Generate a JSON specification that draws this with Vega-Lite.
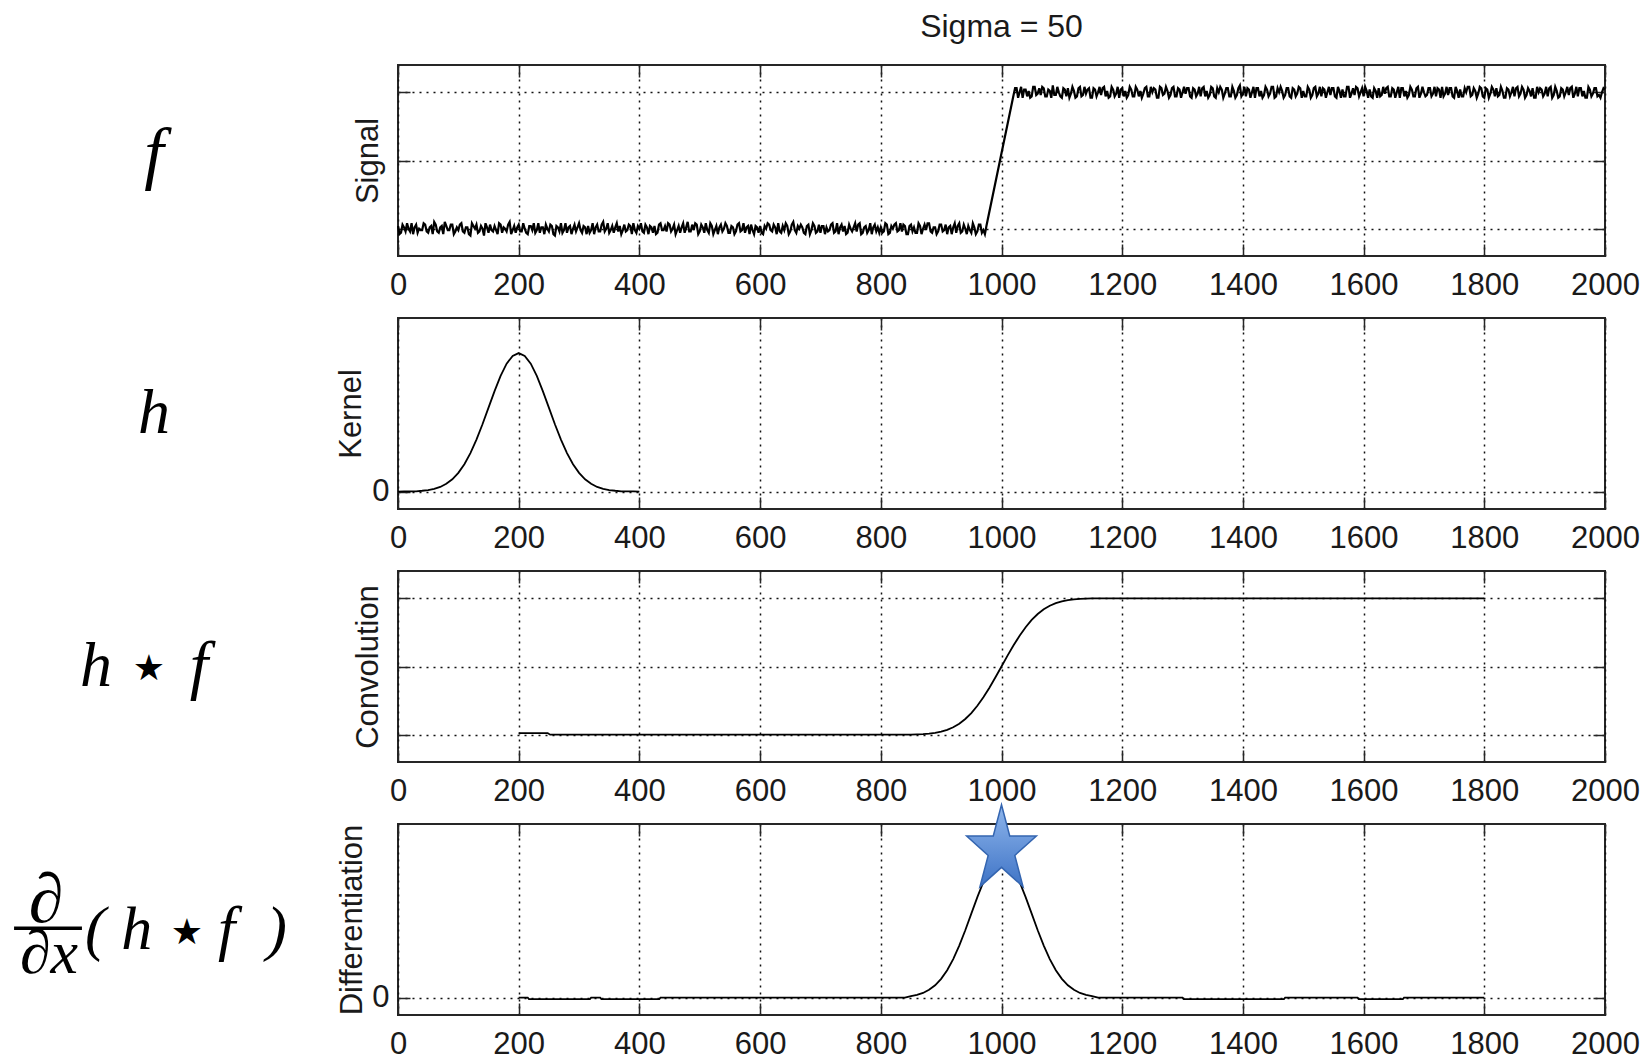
{
  "$schema": "https://vega.github.io/schema/vega-lite/v6.json",
  "padding": {"left": 0, "top": 10, "right": 0, "bottom": 0},
  "background": "white",
  "datasets": {
    "signal": [
{"x":0,"y":0.02},{"x":5,"y":-0.03},{"x":10,"y":0.01},{"x":15,"y":0.04},{"x":20,"y":-0.02},{"x":25,"y":-0.04},{"x":30,"y":0.03},{"x":35,"y":0},{"x":40,"y":-0.01},{"x":45,"y":0.03},{"x":50,"y":-0.03},{"x":55,"y":0.02},{"x":60,"y":0.05},{"x":65,"y":-0.02},{"x":70,"y":0.01},{"x":75,"y":-0.04},{"x":80,"y":0.02},{"x":85,"y":-0.01},{"x":90,"y":0.03},{"x":95,"y":-0.02},
{"x":100,"y":-0.01},{"x":105,"y":0.04},{"x":110,"y":-0.03},{"x":115,"y":0.01},{"x":120,"y":-0.05},{"x":125,"y":0.02},{"x":130,"y":0.03},{"x":135,"y":-0.02},{"x":140,"y":0},{"x":145,"y":0.04},{"x":150,"y":-0.03},{"x":155,"y":-0.01},{"x":160,"y":0.02},{"x":165,"y":-0.04},{"x":170,"y":0.03},{"x":175,"y":0.01},{"x":180,"y":-0.02},{"x":185,"y":0.05},{"x":190,"y":-0.01},{"x":195,"y":-0.03},
{"x":200,"y":0.03},{"x":205,"y":-0.02},{"x":210,"y":0},{"x":215,"y":-0.04},{"x":220,"y":0.02},{"x":225,"y":0.04},{"x":230,"y":-0.01},{"x":235,"y":-0.03},{"x":240,"y":0.01},{"x":245,"y":0.03},{"x":250,"y":-0.02},{"x":255,"y":0.02},{"x":260,"y":-0.05},{"x":265,"y":0.01},{"x":270,"y":0.04},{"x":275,"y":-0.01},{"x":280,"y":-0.03},{"x":285,"y":0.02},{"x":290,"y":0},{"x":295,"y":-0.02},
{"x":300,"y":0.04},{"x":305,"y":-0.03},{"x":310,"y":0.01},{"x":315,"y":0.02},{"x":320,"y":-0.01},{"x":325,"y":-0.04},{"x":330,"y":0.03},{"x":335,"y":-0.02},{"x":340,"y":0.05},{"x":345,"y":0},{"x":350,"y":-0.03},{"x":355,"y":0.02},{"x":360,"y":0.01},{"x":365,"y":-0.02},{"x":370,"y":-0.04},{"x":375,"y":0.03},{"x":380,"y":-0.01},{"x":385,"y":0.02},{"x":390,"y":0.04},{"x":395,"y":-0.03},
{"x":400,"y":0},{"x":405,"y":-0.02},{"x":410,"y":0.03},{"x":415,"y":-0.04},{"x":420,"y":0.01},{"x":425,"y":0.02},{"x":430,"y":-0.03},{"x":435,"y":0.04},{"x":440,"y":-0.01},{"x":445,"y":-0.02},{"x":450,"y":0.03},{"x":455,"y":0},{"x":460,"y":-0.04},{"x":465,"y":0.02},{"x":470,"y":0.01},{"x":475,"y":-0.03},{"x":480,"y":0.05},{"x":485,"y":-0.02},{"x":490,"y":-0.01},{"x":495,"y":0.03},
{"x":500,"y":-0.02},{"x":505,"y":0.01},{"x":510,"y":0.04},{"x":515,"y":-0.03},{"x":520,"y":0.02},{"x":525,"y":-0.01},{"x":530,"y":-0.04},{"x":535,"y":0.03},{"x":540,"y":0},{"x":545,"y":0.02},{"x":550,"y":-0.03},{"x":555,"y":0.01},{"x":560,"y":-0.02},{"x":565,"y":0.04},{"x":570,"y":-0.01},{"x":575,"y":-0.03},{"x":580,"y":0.02},{"x":585,"y":0.03},{"x":590,"y":-0.04},{"x":595,"y":0.01},
{"x":600,"y":0.02},{"x":605,"y":-0.04},{"x":610,"y":0},{"x":615,"y":0.03},{"x":620,"y":-0.02},{"x":625,"y":0.01},{"x":630,"y":0.04},{"x":635,"y":-0.03},{"x":640,"y":-0.01},{"x":645,"y":0.02},{"x":650,"y":-0.02},{"x":655,"y":0.05},{"x":660,"y":-0.03},{"x":665,"y":0},{"x":670,"y":0.01},{"x":675,"y":-0.04},{"x":680,"y":0.03},{"x":685,"y":-0.01},{"x":690,"y":0.02},{"x":695,"y":-0.02},
{"x":700,"y":-0.03},{"x":705,"y":0.02},{"x":710,"y":0.01},{"x":715,"y":-0.01},{"x":720,"y":0.04},{"x":725,"y":-0.02},{"x":730,"y":-0.04},{"x":735,"y":0.03},{"x":740,"y":0.02},{"x":745,"y":-0.03},{"x":750,"y":0},{"x":755,"y":0.01},{"x":760,"y":-0.02},{"x":765,"y":0.04},{"x":770,"y":-0.03},{"x":775,"y":0.02},{"x":780,"y":-0.01},{"x":785,"y":-0.04},{"x":790,"y":0.03},{"x":795,"y":0.01},
{"x":800,"y":0.01},{"x":805,"y":-0.02},{"x":810,"y":0.03},{"x":815,"y":-0.03},{"x":820,"y":0},{"x":825,"y":0.04},{"x":830,"y":-0.01},{"x":835,"y":-0.02},{"x":840,"y":0.02},{"x":845,"y":-0.04},{"x":850,"y":0.03},{"x":855,"y":0.01},{"x":860,"y":-0.03},{"x":865,"y":0.02},{"x":870,"y":0},{"x":875,"y":-0.01},{"x":880,"y":0.04},{"x":885,"y":-0.03},{"x":890,"y":0.01},{"x":895,"y":-0.02},
{"x":900,"y":0.03},{"x":905,"y":-0.01},{"x":910,"y":-0.04},{"x":915,"y":0.02},{"x":920,"y":0.01},{"x":925,"y":-0.03},{"x":930,"y":0.04},{"x":935,"y":-0.02},{"x":940,"y":0},{"x":945,"y":0.02},{"x":950,"y":-0.03},{"x":955,"y":0.01},{"x":960,"y":-0.02},{"x":965,"y":0.03},{"x":970,"y":-0.01},{"x":975,"y":0.02},
{"x":2.5,"y":-0.04},{"x":7.5,"y":0.03},{"x":12.5,"y":-0.02},{"x":17.5,"y":0},{"x":22.5,"y":0.04},{"x":27.5,"y":0.01},{"x":32.5,"y":-0.03},{"x":37.5,"y":-0.01},{"x":42.5,"y":0.04},{"x":47.5,"y":-0.02},{"x":52.5,"y":0.01},{"x":57.5,"y":-0.04},{"x":62.5,"y":0.03},{"x":67.5,"y":-0.03},{"x":72.5,"y":0.02},{"x":77.5,"y":0.05},{"x":82.5,"y":-0.01},{"x":87.5,"y":0.03},{"x":92.5,"y":-0.04},{"x":97.5,"y":0.01},
{"x":102.5,"y":0.03},{"x":107.5,"y":-0.02},{"x":112.5,"y":0.01},{"x":117.5,"y":-0.04},{"x":122.5,"y":0.04},{"x":127.5,"y":0},{"x":132.5,"y":-0.03},{"x":137.5,"y":0.02},{"x":142.5,"y":-0.05},{"x":147.5,"y":0.01},{"x":152.5,"y":0.03},{"x":157.5,"y":-0.02},{"x":162.5,"y":-0.01},{"x":167.5,"y":0.04},{"x":172.5,"y":-0.03},{"x":177.5,"y":0},{"x":182.5,"y":0.03},{"x":187.5,"y":-0.04},{"x":192.5,"y":0.02},{"x":197.5,"y":0.01},
{"x":202.5,"y":-0.02},{"x":207.5,"y":0.04},{"x":212.5,"y":-0.03},{"x":217.5,"y":0.02},{"x":222.5,"y":-0.01},{"x":227.5,"y":-0.03},{"x":232.5,"y":0.04},{"x":237.5,"y":0.01},{"x":242.5,"y":-0.04},{"x":247.5,"y":0},{"x":252.5,"y":0.03},{"x":257.5,"y":-0.04},{"x":262.5,"y":0.02},{"x":267.5,"y":-0.02},{"x":272.5,"y":-0.03},{"x":277.5,"y":0.04},{"x":282.5,"y":0.01},{"x":287.5,"y":-0.04},{"x":292.5,"y":0.03},{"x":297.5,"y":0.01},
{"x":302.5,"y":-0.01},{"x":307.5,"y":0.02},{"x":312.5,"y":-0.04},{"x":317.5,"y":-0.03},{"x":322.5,"y":0.04},{"x":327.5,"y":0.01},{"x":332.5,"y":-0.02},{"x":337.5,"y":0.03},{"x":342.5,"y":-0.02},{"x":347.5,"y":0.04},{"x":352.5,"y":-0.01},{"x":357.5,"y":-0.03},{"x":362.5,"y":0.04},{"x":367.5,"y":0.02},{"x":372.5,"y":-0.01},{"x":377.5,"y":-0.02},{"x":382.5,"y":0.03},{"x":387.5,"y":-0.04},{"x":392.5,"y":-0.01},{"x":397.5,"y":0.02},
{"x":402.5,"y":0.04},{"x":407.5,"y":-0.03},{"x":412.5,"y":0.01},{"x":417.5,"y":0.02},{"x":422.5,"y":-0.03},{"x":427.5,"y":-0.04},{"x":432.5,"y":0.03},{"x":437.5,"y":-0.01},{"x":442.5,"y":0.02},{"x":447.5,"y":0.04},{"x":452.5,"y":-0.02},{"x":457.5,"y":0.03},{"x":462.5,"y":-0.01},{"x":467.5,"y":-0.03},{"x":472.5,"y":0.04},{"x":477.5,"y":0.01},{"x":482.5,"y":-0.02},{"x":487.5,"y":0.03},{"x":492.5,"y":0.04},{"x":497.5,"y":-0.04},
{"x":502.5,"y":0.03},{"x":507.5,"y":-0.03},{"x":512.5,"y":-0.01},{"x":517.5,"y":0.04},{"x":522.5,"y":-0.04},{"x":527.5,"y":0.02},{"x":532.5,"y":0.01},{"x":537.5,"y":-0.02},{"x":542.5,"y":0.04},{"x":547.5,"y":-0.03},{"x":552.5,"y":0.02},{"x":557.5,"y":-0.04},{"x":562.5,"y":0.03},{"x":567.5,"y":-0.02},{"x":572.5,"y":0.04},{"x":577.5,"y":0.01},{"x":582.5,"y":-0.04},{"x":587.5,"y":-0.01},{"x":592.5,"y":0.02},{"x":597.5,"y":-0.03},
{"x":602.5,"y":-0.03},{"x":607.5,"y":0.02},{"x":612.5,"y":0.04},{"x":617.5,"y":-0.01},{"x":622.5,"y":0.03},{"x":627.5,"y":-0.04},{"x":632.5,"y":-0.02},{"x":637.5,"y":0.02},{"x":642.5,"y":0.04},{"x":647.5,"y":-0.04},{"x":652.5,"y":0.03},{"x":657.5,"y":-0.01},{"x":662.5,"y":0.02},{"x":667.5,"y":0.03},{"x":672.5,"y":-0.03},{"x":677.5,"y":0.02},{"x":682.5,"y":-0.04},{"x":687.5,"y":0.04},{"x":692.5,"y":-0.03},{"x":697.5,"y":0.03},
{"x":702.5,"y":0.02},{"x":707.5,"y":-0.04},{"x":712.5,"y":-0.02},{"x":717.5,"y":0.03},{"x":722.5,"y":-0.03},{"x":727.5,"y":0.04},{"x":732.5,"y":0.01},{"x":737.5,"y":-0.02},{"x":742.5,"y":-0.04},{"x":747.5,"y":0.03},{"x":752.5,"y":-0.02},{"x":757.5,"y":0.04},{"x":762.5,"y":0.03},{"x":767.5,"y":-0.04},{"x":772.5,"y":0.01},{"x":777.5,"y":-0.03},{"x":782.5,"y":0.04},{"x":787.5,"y":0.01},{"x":792.5,"y":-0.02},{"x":797.5,"y":-0.03},
{"x":802.5,"y":-0.03},{"x":807.5,"y":0.04},{"x":812.5,"y":-0.04},{"x":817.5,"y":0.02},{"x":822.5,"y":0.03},{"x":827.5,"y":-0.02},{"x":832.5,"y":0.04},{"x":837.5,"y":0.03},{"x":842.5,"y":-0.04},{"x":847.5,"y":0.02},{"x":852.5,"y":-0.02},{"x":857.5,"y":-0.03},{"x":862.5,"y":0.04},{"x":867.5,"y":-0.04},{"x":872.5,"y":0.03},{"x":877.5,"y":0.04},{"x":882.5,"y":-0.02},{"x":887.5,"y":0.01},{"x":892.5,"y":-0.04},{"x":897.5,"y":0.03},
{"x":902.5,"y":-0.02},{"x":907.5,"y":0.03},{"x":912.5,"y":0.01},{"x":917.5,"y":-0.04},{"x":922.5,"y":0.04},{"x":927.5,"y":0.02},{"x":932.5,"y":-0.03},{"x":937.5,"y":0.03},{"x":942.5,"y":-0.04},{"x":947.5,"y":-0.01},{"x":952.5,"y":0.04},{"x":957.5,"y":-0.04},{"x":962.5,"y":0.03},{"x":967.5,"y":-0.03},{"x":972.5,"y":-0.04},
{"x":1020,"y":0.98},{"x":1025,"y":1.03},{"x":1030,"y":1},{"x":1035,"y":0.96},{"x":1040,"y":1.02},{"x":1045,"y":1.01},{"x":1050,"y":0.97},{"x":1055,"y":1.04},{"x":1060,"y":0.99},{"x":1065,"y":0.98},{"x":1070,"y":1.03},{"x":1075,"y":0.97},{"x":1080,"y":1.01},{"x":1085,"y":1.05},{"x":1090,"y":0.98},{"x":1095,"y":1},{"x":1100,"y":0.96},{"x":1105,"y":1.02},{"x":1110,"y":1.03},{"x":1115,"y":0.99},
{"x":1120,"y":1.01},{"x":1125,"y":0.97},{"x":1130,"y":1.04},{"x":1135,"y":0.98},{"x":1140,"y":0.99},{"x":1145,"y":1.03},{"x":1150,"y":0.96},{"x":1155,"y":1.02},{"x":1160,"y":1},{"x":1165,"y":0.98},{"x":1170,"y":1.04},{"x":1175,"y":1.01},{"x":1180,"y":0.97},{"x":1185,"y":1.02},{"x":1190,"y":0.99},{"x":1195,"y":0.96},{"x":1200,"y":1.03},{"x":1205,"y":1.01},{"x":1210,"y":0.98},{"x":1215,"y":1.02},
{"x":1220,"y":0.97},{"x":1225,"y":1.02},{"x":1230,"y":1.01},{"x":1235,"y":0.99},{"x":1240,"y":1.04},{"x":1245,"y":0.97},{"x":1250,"y":1},{"x":1255,"y":1.02},{"x":1260,"y":0.96},{"x":1265,"y":1.03},{"x":1270,"y":0.99},{"x":1275,"y":1.01},{"x":1280,"y":0.98},{"x":1285,"y":1.04},{"x":1290,"y":0.97},{"x":1295,"y":1.02},{"x":1300,"y":1},{"x":1305,"y":0.99},{"x":1310,"y":1.03},{"x":1315,"y":0.96},
{"x":1320,"y":1.02},{"x":1325,"y":0.99},{"x":1330,"y":0.97},{"x":1335,"y":1.04},{"x":1340,"y":1.01},{"x":1345,"y":0.98},{"x":1350,"y":1.03},{"x":1355,"y":0.96},{"x":1360,"y":1},{"x":1365,"y":1.02},{"x":1370,"y":0.99},{"x":1375,"y":1.03},{"x":1380,"y":0.97},{"x":1385,"y":1.01},{"x":1390,"y":0.98},{"x":1395,"y":1.05},{"x":1400,"y":0.99},{"x":1405,"y":0.97},{"x":1410,"y":1.02},{"x":1415,"y":1},
{"x":1420,"y":0.96},{"x":1425,"y":1.03},{"x":1430,"y":1.01},{"x":1435,"y":0.98},{"x":1440,"y":1.02},{"x":1445,"y":0.99},{"x":1450,"y":1.04},{"x":1455,"y":0.97},{"x":1460,"y":1},{"x":1465,"y":1.01},{"x":1470,"y":0.98},{"x":1475,"y":1.03},{"x":1480,"y":0.96},{"x":1485,"y":1.02},{"x":1490,"y":0.99},{"x":1495,"y":1.03},{"x":1500,"y":1.01},{"x":1505,"y":0.97},{"x":1510,"y":1.02},{"x":1515,"y":0.98},
{"x":1520,"y":1.04},{"x":1525,"y":0.99},{"x":1530,"y":0.97},{"x":1535,"y":1.02},{"x":1540,"y":1},{"x":1545,"y":0.98},{"x":1550,"y":1.03},{"x":1555,"y":0.96},{"x":1560,"y":1.01},{"x":1565,"y":1.02},{"x":1570,"y":0.97},{"x":1575,"y":1.04},{"x":1580,"y":0.99},{"x":1585,"y":0.98},{"x":1590,"y":1.03},{"x":1595,"y":1},{"x":1600,"y":0.97},{"x":1605,"y":1.01},{"x":1610,"y":1.02},{"x":1615,"y":0.96},
{"x":1620,"y":1.01},{"x":1625,"y":1.03},{"x":1630,"y":0.98},{"x":1635,"y":0.99},{"x":1640,"y":1.04},{"x":1645,"y":0.97},{"x":1650,"y":1.02},{"x":1655,"y":1},{"x":1660,"y":0.96},{"x":1665,"y":1.03},{"x":1670,"y":1.01},{"x":1675,"y":0.98},{"x":1680,"y":1.02},{"x":1685,"y":0.97},{"x":1690,"y":1.04},{"x":1695,"y":0.99},{"x":1700,"y":1},{"x":1705,"y":0.98},{"x":1710,"y":1.03},{"x":1715,"y":0.99},
{"x":1720,"y":0.97},{"x":1725,"y":1.02},{"x":1730,"y":1.04},{"x":1735,"y":0.99},{"x":1740,"y":0.98},{"x":1745,"y":1.03},{"x":1750,"y":0.96},{"x":1755,"y":1.01},{"x":1760,"y":1.02},{"x":1765,"y":0.97},{"x":1770,"y":1},{"x":1775,"y":1.04},{"x":1780,"y":0.98},{"x":1785,"y":1.01},{"x":1790,"y":0.99},{"x":1795,"y":1.03},{"x":1800,"y":0.96},{"x":1805,"y":1.02},{"x":1810,"y":0.99},{"x":1815,"y":1.02},
{"x":1820,"y":1.03},{"x":1825,"y":0.98},{"x":1830,"y":1.01},{"x":1835,"y":0.96},{"x":1840,"y":1.02},{"x":1845,"y":1},{"x":1850,"y":0.97},{"x":1855,"y":1.04},{"x":1860,"y":0.99},{"x":1865,"y":1.02},{"x":1870,"y":0.98},{"x":1875,"y":1.01},{"x":1880,"y":1.03},{"x":1885,"y":0.96},{"x":1890,"y":1},{"x":1895,"y":1.02},{"x":1900,"y":0.99},{"x":1905,"y":0.97},{"x":1910,"y":1.04},{"x":1915,"y":0.98},
{"x":1920,"y":1.01},{"x":1925,"y":0.97},{"x":1930,"y":1.02},{"x":1935,"y":1},{"x":1940,"y":0.98},{"x":1945,"y":1.04},{"x":1950,"y":0.99},{"x":1955,"y":0.97},{"x":1960,"y":1.03},{"x":1965,"y":1.01},{"x":1970,"y":0.96},{"x":1975,"y":1.02},{"x":1980,"y":0.99},{"x":1985,"y":1.03},{"x":1990,"y":0.98},{"x":1995,"y":1},{"x":2000,"y":1.02},
{"x":1022.5,"y":1.03},{"x":1027.5,"y":0.96},{"x":1032.5,"y":1.04},{"x":1037.5,"y":1.02},{"x":1042.5,"y":0.97},{"x":1047.5,"y":0.96},{"x":1052.5,"y":1.04},{"x":1057.5,"y":0.98},{"x":1062.5,"y":1.03},{"x":1067.5,"y":1.04},{"x":1072.5,"y":0.97},{"x":1077.5,"y":1.02},{"x":1082.5,"y":0.96},{"x":1087.5,"y":0.98},{"x":1092.5,"y":1.04},{"x":1097.5,"y":0.97},{"x":1102.5,"y":1.03},{"x":1107.5,"y":0.97},{"x":1112.5,"y":0.96},{"x":1117.5,"y":1.04},
{"x":1122.5,"y":0.96},{"x":1127.5,"y":1.03},{"x":1132.5,"y":0.97},{"x":1137.5,"y":1.04},{"x":1142.5,"y":1.02},{"x":1147.5,"y":0.96},{"x":1152.5,"y":1.03},{"x":1157.5,"y":0.97},{"x":1162.5,"y":1.04},{"x":1167.5,"y":1.03},{"x":1172.5,"y":0.97},{"x":1177.5,"y":0.96},{"x":1182.5,"y":1.04},{"x":1187.5,"y":0.97},{"x":1192.5,"y":1.04},{"x":1197.5,"y":1.02},{"x":1202.5,"y":0.97},{"x":1207.5,"y":0.96},{"x":1212.5,"y":1.04},{"x":1217.5,"y":0.97},
{"x":1222.5,"y":1.04},{"x":1227.5,"y":0.97},{"x":1232.5,"y":0.96},{"x":1237.5,"y":1.03},{"x":1242.5,"y":0.97},{"x":1247.5,"y":1.04},{"x":1252.5,"y":1.03},{"x":1257.5,"y":0.96},{"x":1262.5,"y":1.04},{"x":1267.5,"y":0.98},{"x":1272.5,"y":1.04},{"x":1277.5,"y":0.96},{"x":1282.5,"y":1.03},{"x":1287.5,"y":0.97},{"x":1292.5,"y":1.03},{"x":1297.5,"y":0.96},{"x":1302.5,"y":1.04},{"x":1307.5,"y":1.03},{"x":1312.5,"y":0.97},{"x":1317.5,"y":1.03},
{"x":1322.5,"y":0.97},{"x":1327.5,"y":1.04},{"x":1332.5,"y":1.03},{"x":1337.5,"y":0.97},{"x":1342.5,"y":0.96},{"x":1347.5,"y":1.04},{"x":1352.5,"y":0.97},{"x":1357.5,"y":1.03},{"x":1362.5,"y":1.04},{"x":1367.5,"y":0.96},{"x":1372.5,"y":1.03},{"x":1377.5,"y":0.97},{"x":1382.5,"y":1.04},{"x":1387.5,"y":0.96},{"x":1392.5,"y":1.03},{"x":1397.5,"y":0.97},{"x":1402.5,"y":1.04},{"x":1407.5,"y":1.03},{"x":1412.5,"y":0.96},{"x":1417.5,"y":1.04},
{"x":1422.5,"y":1.03},{"x":1427.5,"y":0.97},{"x":1432.5,"y":0.96},{"x":1437.5,"y":1.04},{"x":1442.5,"y":0.97},{"x":1447.5,"y":1.04},{"x":1452.5,"y":0.96},{"x":1457.5,"y":1.03},{"x":1462.5,"y":1.04},{"x":1467.5,"y":0.96},{"x":1472.5,"y":1.03},{"x":1477.5,"y":0.97},{"x":1482.5,"y":1.03},{"x":1487.5,"y":0.97},{"x":1492.5,"y":1.04},{"x":1497.5,"y":0.96},{"x":1502.5,"y":0.97},{"x":1507.5,"y":1.04},{"x":1512.5,"y":0.96},{"x":1517.5,"y":1.03},
{"x":1522.5,"y":0.97},{"x":1527.5,"y":1.04},{"x":1532.5,"y":1.03},{"x":1537.5,"y":0.96},{"x":1542.5,"y":1.04},{"x":1547.5,"y":1.03},{"x":1552.5,"y":0.97},{"x":1557.5,"y":1.04},{"x":1562.5,"y":0.96},{"x":1567.5,"y":0.97},{"x":1572.5,"y":1.04},{"x":1577.5,"y":0.96},{"x":1582.5,"y":1.03},{"x":1587.5,"y":1.04},{"x":1592.5,"y":0.97},{"x":1597.5,"y":1.03},{"x":1602.5,"y":1.04},{"x":1607.5,"y":0.96},{"x":1612.5,"y":0.97},{"x":1617.5,"y":1.03},
{"x":1622.5,"y":0.96},{"x":1627.5,"y":0.97},{"x":1632.5,"y":1.04},{"x":1637.5,"y":1.03},{"x":1642.5,"y":0.97},{"x":1647.5,"y":1.03},{"x":1652.5,"y":0.96},{"x":1657.5,"y":1.04},{"x":1662.5,"y":1.03},{"x":1667.5,"y":0.97},{"x":1672.5,"y":0.96},{"x":1677.5,"y":1.04},{"x":1682.5,"y":0.97},{"x":1687.5,"y":1.03},{"x":1692.5,"y":0.96},{"x":1697.5,"y":1.04},{"x":1702.5,"y":0.97},{"x":1707.5,"y":1.03},{"x":1712.5,"y":0.97},{"x":1717.5,"y":1.04},
{"x":1722.5,"y":1.03},{"x":1727.5,"y":0.96},{"x":1732.5,"y":0.97},{"x":1737.5,"y":1.04},{"x":1742.5,"y":1.03},{"x":1747.5,"y":0.97},{"x":1752.5,"y":1.04},{"x":1757.5,"y":0.96},{"x":1762.5,"y":0.97},{"x":1767.5,"y":1.03},{"x":1772.5,"y":1.04},{"x":1777.5,"y":0.97},{"x":1782.5,"y":1.03},{"x":1787.5,"y":0.96},{"x":1792.5,"y":1.04},{"x":1797.5,"y":0.97},{"x":1802.5,"y":1.03},{"x":1807.5,"y":0.96},{"x":1812.5,"y":1.04},{"x":1817.5,"y":0.97},
{"x":1822.5,"y":0.97},{"x":1827.5,"y":1.04},{"x":1832.5,"y":0.96},{"x":1837.5,"y":1.03},{"x":1842.5,"y":0.97},{"x":1847.5,"y":1.04},{"x":1852.5,"y":1.03},{"x":1857.5,"y":0.97},{"x":1862.5,"y":1.04},{"x":1867.5,"y":0.96},{"x":1872.5,"y":1.03},{"x":1877.5,"y":0.97},{"x":1882.5,"y":0.96},{"x":1887.5,"y":1.04},{"x":1892.5,"y":1.03},{"x":1897.5,"y":0.97},{"x":1902.5,"y":1.04},{"x":1907.5,"y":1.03},{"x":1912.5,"y":0.96},{"x":1917.5,"y":1.04},
{"x":1922.5,"y":0.96},{"x":1927.5,"y":1.03},{"x":1932.5,"y":0.97},{"x":1937.5,"y":1.04},{"x":1942.5,"y":1.03},{"x":1947.5,"y":0.96},{"x":1952.5,"y":1.04},{"x":1957.5,"y":1.03},{"x":1962.5,"y":0.97},{"x":1967.5,"y":0.96},{"x":1972.5,"y":1.04},{"x":1977.5,"y":0.97},{"x":1982.5,"y":1.03},{"x":1987.5,"y":0.97},{"x":1992.5,"y":0.96},{"x":1997.5,"y":1.03}
    ],
    "kernel": [
{"x":0,"y":0},{"x":10,"y":0.00001},{"x":20,"y":0.00001},{"x":30,"y":0.00002},{"x":40,"y":0.00005},{"x":50,"y":0.00009},{"x":60,"y":0.00016},{"x":70,"y":0.00027},{"x":80,"y":0.00045},{"x":90,"y":0.00071},{"x":100,"y":0.00108},{"x":110,"y":0.00158},{"x":120,"y":0.00222},{"x":130,"y":0.003},{"x":140,"y":0.00388},{"x":150,"y":0.00484},{"x":160,"y":0.00579},{"x":170,"y":0.00667},{"x":180,"y":0.00737},{"x":190,"y":0.00782},{"x":200,"y":0.00798},{"x":210,"y":0.00782},{"x":220,"y":0.00737},{"x":230,"y":0.00667},{"x":240,"y":0.00579},{"x":250,"y":0.00484},{"x":260,"y":0.00388},{"x":270,"y":0.003},{"x":280,"y":0.00222},{"x":290,"y":0.00158},{"x":300,"y":0.00108},{"x":310,"y":0.00071},{"x":320,"y":0.00045},{"x":330,"y":0.00027},{"x":340,"y":0.00016},{"x":350,"y":0.00009},{"x":360,"y":0.00005},{"x":370,"y":0.00002},{"x":380,"y":0.00001},{"x":390,"y":0.00001},{"x":400,"y":0}
    ],
    "conv": [
{"x":200,"y":0.012},{"x":248,"y":0.012},{"x":252,"y":0},{"x":840,"y":0},{"x":850,"y":0.0013},{"x":860,"y":0.0026},{"x":870,"y":0.0047},{"x":880,"y":0.0082},{"x":890,"y":0.0139},{"x":900,"y":0.0228},{"x":910,"y":0.0359},{"x":920,"y":0.0548},{"x":930,"y":0.0808},{"x":940,"y":0.1151},{"x":950,"y":0.1587},{"x":960,"y":0.2119},{"x":970,"y":0.2743},{"x":980,"y":0.3446},{"x":990,"y":0.4207},{"x":1000,"y":0.5},{"x":1010,"y":0.5793},{"x":1020,"y":0.6554},{"x":1030,"y":0.7257},{"x":1040,"y":0.7881},{"x":1050,"y":0.8413},{"x":1060,"y":0.8849},{"x":1070,"y":0.9192},{"x":1080,"y":0.9452},{"x":1090,"y":0.9641},{"x":1100,"y":0.9772},{"x":1110,"y":0.9861},{"x":1120,"y":0.9918},{"x":1130,"y":0.9953},{"x":1140,"y":0.9974},{"x":1150,"y":0.9987},{"x":1160,"y":0.9994},{"x":1170,"y":0.9997},{"x":1180,"y":1},{"x":1800,"y":1}
    ],
    "diff": [
{"x":200,"y":0},{"x":215,"y":0},{"x":217,"y":-0.00008},{"x":318,"y":-0.00008},{"x":320,"y":0},{"x":335,"y":0},{"x":337,"y":-0.00008},{"x":433,"y":-0.00008},{"x":435,"y":0},{"x":840,"y":0},{"x":850,"y":0.00009},{"x":860,"y":0.00016},{"x":870,"y":0.00027},{"x":880,"y":0.00045},{"x":890,"y":0.00071},{"x":900,"y":0.00108},{"x":910,"y":0.00158},{"x":920,"y":0.00222},{"x":930,"y":0.003},{"x":940,"y":0.00388},{"x":950,"y":0.00484},{"x":960,"y":0.00579},{"x":970,"y":0.00667},{"x":980,"y":0.00737},{"x":990,"y":0.00782},{"x":1000,"y":0.00798},{"x":1010,"y":0.00782},{"x":1020,"y":0.00737},{"x":1030,"y":0.00667},{"x":1040,"y":0.00579},{"x":1050,"y":0.00484},{"x":1060,"y":0.00388},{"x":1070,"y":0.003},{"x":1080,"y":0.00222},{"x":1090,"y":0.00158},{"x":1100,"y":0.00108},{"x":1110,"y":0.00071},{"x":1120,"y":0.00045},{"x":1130,"y":0.00027},{"x":1140,"y":0.00016},{"x":1150,"y":0.00009},{"x":1160,"y":0},{"x":1300,"y":0},{"x":1302,"y":-0.00008},{"x":1468,"y":-0.00008},{"x":1470,"y":0},{"x":1590,"y":0},{"x":1592,"y":-0.00008},{"x":1665,"y":-0.00008},{"x":1667,"y":0},{"x":1800,"y":0}
    ],
    "peak": [{"x":1000,"y":0.0085}],
    "one": [{"x":0,"y":0}]
  },
  "concat": [
    {"width":308,"height":191,"view":{"stroke":null},"data":{"values":[{"t":"f"}]},
     "mark":{"type":"text","font":"Liberation Serif","fontStyle":"italic","fontSize":70,"color":"#000","dy":-6},
     "encoding":{"text":{"field":"t"}}},
    {"width":1207,"height":191,
     "title":{"text":"Sigma = 50","font":"Liberation Sans","fontSize":32,"fontWeight":"normal","color":"#1a1a1a","offset":20,"frame":"group","anchor":"middle"},
     "layer":[
       {"data":{"name":"signal"},"mark":{"type":"line","color":"#000","strokeWidth":2.2},
        "encoding":{
          "x":{"field":"x","type":"quantitative","scale":{"domain":[0,2000],"nice":false,"zero":false},
               "axis":{"orient":"bottom","values":[0,200,400,600,800,1000,1200,1400,1600,1800,2000],"format":"d","title":null,"labelPadding":26,"labelFlush":false,"labelOverlap":false}},
          "y":{"field":"y","type":"quantitative","scale":{"domain":[-0.2,1.2],"nice":false,"zero":false},
               "axis":{"orient":"left","values":[0,0.5,1],"labels":false,"title":"Signal","titlePadding":13}}}},
       {"data":{"name":"one"},"mark":{"type":"point","opacity":0},
        "encoding":{
          "x":{"field":"x","type":"quantitative","scale":{"domain":[0,2000],"nice":false,"zero":false},
               "axis":{"orient":"top","values":[0,200,400,600,800,1000,1200,1400,1600,1800,2000],"labels":false,"grid":false,"title":null}},
          "y":{"field":"y","type":"quantitative","scale":{"domain":[-0.2,1.2],"nice":false,"zero":false},
               "axis":{"orient":"right","values":[0,0.5,1],"labels":false,"grid":false,"title":null}}}}
     ],
     "resolve":{"axis":{"x":"independent","y":"independent"}}},
    {"width":308,"height":191,"view":{"stroke":null},"data":{"values":[{"t":"h"}]},
     "mark":{"type":"text","font":"Liberation Serif","fontStyle":"italic","fontSize":64,"color":"#000"},
     "encoding":{"text":{"field":"t"}}},
    {"width":1207,"height":191,
     "layer":[
       {"data":{"name":"kernel"},"mark":{"type":"line","color":"#000","strokeWidth":1.8},
        "encoding":{
          "x":{"field":"x","type":"quantitative","scale":{"domain":[0,2000],"nice":false,"zero":false},
               "axis":{"orient":"bottom","values":[0,200,400,600,800,1000,1200,1400,1600,1800,2000],"format":"d","title":null,"labelPadding":26,"labelFlush":false,"labelOverlap":false}},
          "y":{"field":"y","type":"quantitative","scale":{"domain":[-0.001,0.01],"nice":false,"zero":false},
               "axis":{"orient":"left","values":[0],"format":"d","labelPadding":21,"title":"Kernel","titlePadding":4}}}},
       {"data":{"name":"one"},"mark":{"type":"point","opacity":0},
        "encoding":{
          "x":{"field":"x","type":"quantitative","scale":{"domain":[0,2000],"nice":false,"zero":false},
               "axis":{"orient":"top","values":[0,200,400,600,800,1000,1200,1400,1600,1800,2000],"labels":false,"grid":false,"title":null}},
          "y":{"field":"y","type":"quantitative","scale":{"domain":[-0.001,0.01],"nice":false,"zero":false},
               "axis":{"orient":"right","values":[0],"labels":false,"grid":false,"title":null}}}}
     ],
     "resolve":{"axis":{"x":"independent","y":"independent"}}},
    {"width":308,"height":191,"view":{"stroke":null},
     "layer":[
       {"data":{"values":[{"t":"h"}]},"mark":{"type":"text","font":"Liberation Serif","fontStyle":"italic","fontSize":64,"color":"#000","dx":-58},"encoding":{"text":{"field":"t"}}},
       {"data":{"values":[{"t":"★"}]},"mark":{"type":"text","font":"DejaVu Sans","fontSize":36,"color":"#000","dx":-5,"dy":2},"encoding":{"text":{"field":"t"}}},
       {"data":{"values":[{"t":"f"}]},"mark":{"type":"text","font":"Liberation Serif","fontStyle":"italic","fontSize":66,"color":"#000","dx":45},"encoding":{"text":{"field":"t"}}}
     ]},
    {"width":1207,"height":191,
     "layer":[
       {"data":{"name":"conv"},"mark":{"type":"line","color":"#000","strokeWidth":1.8},
        "encoding":{
          "x":{"field":"x","type":"quantitative","scale":{"domain":[0,2000],"nice":false,"zero":false},
               "axis":{"orient":"bottom","values":[0,200,400,600,800,1000,1200,1400,1600,1800,2000],"format":"d","title":null,"labelPadding":26,"labelFlush":false,"labelOverlap":false}},
          "y":{"field":"y","type":"quantitative","scale":{"domain":[-0.2,1.2],"nice":false,"zero":false},
               "axis":{"orient":"left","values":[0,0.5,1],"labels":false,"title":"Convolution","titlePadding":13}}}},
       {"data":{"name":"one"},"mark":{"type":"point","opacity":0},
        "encoding":{
          "x":{"field":"x","type":"quantitative","scale":{"domain":[0,2000],"nice":false,"zero":false},
               "axis":{"orient":"top","values":[0,200,400,600,800,1000,1200,1400,1600,1800,2000],"labels":false,"grid":false,"title":null}},
          "y":{"field":"y","type":"quantitative","scale":{"domain":[-0.2,1.2],"nice":false,"zero":false},
               "axis":{"orient":"right","values":[0,0.5,1],"labels":false,"grid":false,"title":null}}}}
     ],
     "resolve":{"axis":{"x":"independent","y":"independent"}}},
    {"width":308,"height":191,"view":{"stroke":null},
     "layer":[
       {"data":{"values":[{"t":"∂"}]},"mark":{"type":"text","font":"Liberation Serif","fontStyle":"italic","fontSize":70,"color":"#000","baseline":"alphabetic","dx":-108,"dy":2},"encoding":{"text":{"field":"t"}}},
       {"data":{"values":[{"t":"—"}]},"mark":{"type":"text","font":"Liberation Serif","fontSize":67,"color":"#000","baseline":"alphabetic","dx":-106,"dy":24},"encoding":{"text":{"field":"t"}}},
       {"data":{"values":[{"t":"∂x"}]},"mark":{"type":"text","font":"Liberation Serif","fontStyle":"italic","fontSize":62,"color":"#000","baseline":"alphabetic","dx":-105,"dy":53},"encoding":{"text":{"field":"t"}}},
       {"data":{"values":[{"t":"(\u00a0h"}]},"mark":{"type":"text","font":"Liberation Serif","fontStyle":"italic","fontSize":62,"color":"#000","baseline":"alphabetic","align":"left","dx":-69,"dy":29},"encoding":{"text":{"field":"t"}}},
       {"data":{"values":[{"t":"★"}]},"mark":{"type":"text","font":"DejaVu Sans","fontSize":36,"color":"#000","dx":33,"dy":13},"encoding":{"text":{"field":"t"}}},
       {"data":{"values":[{"t":"f\u00a0\u00a0)"}]},"mark":{"type":"text","font":"Liberation Serif","fontStyle":"italic","fontSize":62,"color":"#000","baseline":"alphabetic","align":"left","dx":64,"dy":29},"encoding":{"text":{"field":"t"}}}
     ]},
    {"width":1207,"height":191,
     "layer":[
       {"data":{"name":"diff"},"mark":{"type":"line","color":"#000","strokeWidth":1.8},
        "encoding":{
          "x":{"field":"x","type":"quantitative","scale":{"domain":[0,2000],"nice":false,"zero":false},
               "axis":{"orient":"bottom","values":[0,200,400,600,800,1000,1200,1400,1600,1800,2000],"format":"d","title":null,"labelPadding":26,"labelFlush":false,"labelOverlap":false}},
          "y":{"field":"y","type":"quantitative","scale":{"domain":[-0.001,0.01],"nice":false,"zero":false},
               "axis":{"orient":"left","values":[0],"format":"d","labelPadding":21,"title":"Differentiation","titlePadding":3}}}},
       {"data":{"name":"one"},"mark":{"type":"point","opacity":0},
        "encoding":{
          "x":{"field":"x","type":"quantitative","scale":{"domain":[0,2000],"nice":false,"zero":false},
               "axis":{"orient":"top","values":[0,200,400,600,800,1000,1200,1400,1600,1800,2000],"labels":false,"grid":false,"title":null}},
          "y":{"field":"y","type":"quantitative","scale":{"domain":[-0.001,0.01],"nice":false,"zero":false},
               "axis":{"orient":"right","values":[0],"labels":false,"grid":false,"title":null}}}},
       {"data":{"name":"peak"},
        "mark":{"type":"point","shape":"M0,-1L0.182,-0.309L0.770,-0.309L0.294,0.118L0.476,0.809L0,0.382L-0.476,0.809L-0.294,0.118L-0.770,-0.309L-0.182,-0.309Z",
                "size":8200,"opacity":1,"fillOpacity":1,"strokeWidth":1.5,"stroke":"#3465b0",
                "fill":{"gradient":"linear","x1":0,"y1":0,"x2":0,"y2":1,"stops":[{"offset":0,"color":"#8fb6ec"},{"offset":1,"color":"#3f74c6"}]}},
        "encoding":{
          "x":{"field":"x","type":"quantitative","axis":null},
          "y":{"field":"y","type":"quantitative","axis":null}}}
     ],
     "resolve":{"axis":{"x":"independent","y":"independent"}}}
  ],
  "columns": 2,
  "align": "each",
  "bounds": "flush",
  "spacing": {"row": 62, "column": 90},
  "config": {
    "view": {"stroke": "#262626", "strokeWidth": 2},
    "axis": {
      "domain": false, "grid": true, "gridColor": "#111111", "gridDash": [2, 5], "gridWidth": 1.5, "gridOpacity": 1,
      "ticks": true, "tickSize": -12, "tickColor": "#262626", "tickWidth": 1.5,
      "labelFont": "Liberation Sans", "labelFontSize": 31, "labelColor": "#1a1a1a",
      "titleFont": "Liberation Sans", "titleFontSize": 31, "titleFontWeight": "normal", "titleColor": "#1a1a1a",
      "labelFlush": false, "labelOverlap": false, "labelBound": false
    }
  }
}
